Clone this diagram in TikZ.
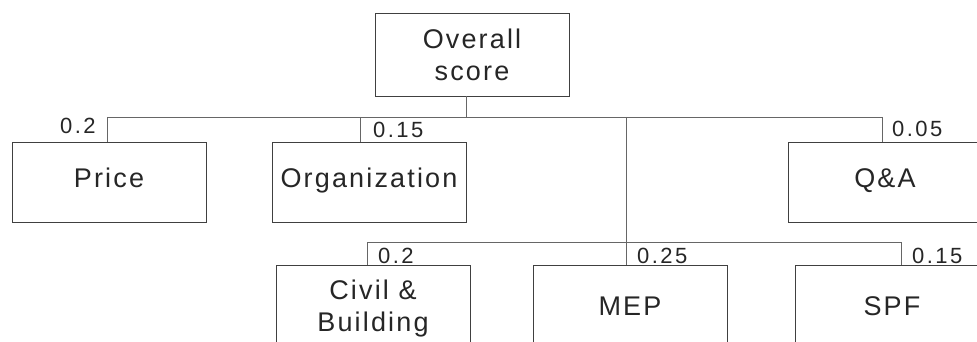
\documentclass[tikz,border=0pt]{standalone}
\usepackage{fontspec}
\setmainfont{Liberation Sans}
\newfontfamily\boxfont[LetterSpace=8]{Liberation Sans}
\newfontfamily\lblfont[LetterSpace=11]{Liberation Sans}
\begin{document}
\begin{tikzpicture}[x=1pt,y=-1pt,
  box/.style={draw=black!75, line width=0.9pt, minimum width=194pt, minimum height=80pt,
    inner sep=0pt, font=\boxfont\fontsize{27}{32}\selectfont, text=black!85, align=center},
  wire/.style={draw=black!60, line width=0.9pt},
  lbl/.style={font=\lblfont\fontsize{22}{24}\selectfont, text=black!85, inner sep=0pt, anchor=base west}]
\path[use as bounding box] (0,0) rectangle (977,342);
\clip (0,0) rectangle (977,342);
% boxes
\node[box, minimum height=82.5pt] (ov) at (472,54.75) {\raisebox{-3pt}{Overall}\\\raisebox{-3pt}{score}};
\node[box, text depth=8pt] (price) at (109,182) {Price};
\node[box, text depth=8pt] (org) at (369,182) {Organization};
\node[box, text depth=8pt] (qa) at (885,182) {Q\&A};
\node[box, minimum height=88pt] (civ) at (373,309) {Civil \&\\Building};
\node[box, minimum height=88pt, text depth=6pt] (mep) at (630,309) {MEP};
\node[box, minimum height=88pt, text depth=6pt] (spf) at (892,309) {SPF};
% junctions
\coordinate (j) at (466,117);
\coordinate (cP) at (107,117);
\coordinate (cO) at (360,117);
\coordinate (cM) at (626,117);
\coordinate (cQ) at (882,117);
\coordinate (cC) at (367,242);
\coordinate (cS) at (901,242);
% connectors
\draw[wire] (ov.south -| j) -- (j);
\draw[wire] (cP) -- (cQ);
\draw[wire] (cP) -- (cP |- price.north);
\draw[wire] (cO) -- (cO |- org.north);
\draw[wire] (cQ) -- (cQ |- qa.north);
\draw[wire] (cM) -- (cM |- mep.north);
\draw[wire] (cC) -- (cS);
\draw[wire] (cC) -- (cC |- civ.north);
\draw[wire] (cS) -- (cS |- spf.north);
% weights
\node[lbl] (w1) at (60,134) {0.2};
\node[lbl] (w2) at (373,138) {0.15};
\node[lbl] (w3) at (892,136) {0.05};
\node[lbl] (w4) at (378,263) {0.2};
\node[lbl] (w5) at (637,263) {0.25};
\node[lbl] (w6) at (912,263) {0.15};
\end{tikzpicture}
\end{document}
